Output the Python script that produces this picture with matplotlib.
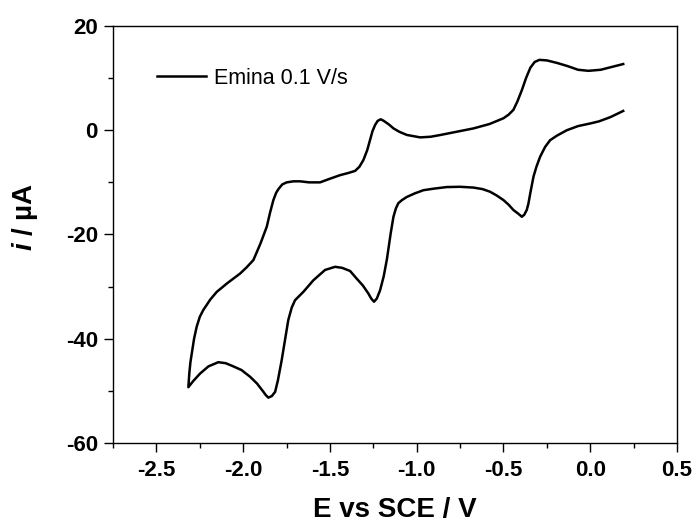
import matplotlib
matplotlib.use('Agg')
import matplotlib.pyplot as plt
from matplotlib.ticker import MultipleLocator

# cyclic voltammogram, cathodic sweep from +0.19 V to the vertex, then back
E_cathodic = [0.19, 0.115, 0.05, 0.0, -0.07, -0.135, -0.19, -0.231, -0.26, -0.289, -0.31, -0.327,
              -0.345, -0.357, -0.366, -0.38, -0.394, -0.415, -0.443, -0.47, -0.50, -0.54, -0.577,
              -0.62, -0.673, -0.75, -0.827, -0.90, -0.961, -1.01, -1.057, -1.085, -1.106, -1.12,
              -1.134, -1.15, -1.172, -1.19, -1.211, -1.23, -1.246, -1.262, -1.279, -1.31, -1.345,
              -1.384, -1.43, -1.47, -1.528, -1.596, -1.653, -1.701, -1.72, -1.74, -1.76, -1.778,
              -1.80, -1.816, -1.835, -1.855, -1.87, -1.883, -1.92, -1.96, -2.01, -2.057, -2.10,
              -2.143, -2.20, -2.249, -2.29, -2.316]
I_cathodic = [3.7, 2.5, 1.7, 1.3, 0.8, 0.0, -1.0, -1.9, -3.2, -5.1, -7.0, -8.9,
              -12.0, -14.2, -15.3, -16.2, -16.6, -16.0, -15.3, -14.3, -13.4, -12.5, -11.8,
              -11.3, -11.0, -10.85, -10.9, -11.2, -11.5, -12.1, -12.8, -13.4, -14.0, -15.0,
              -16.6, -19.8, -24.8, -28.0, -30.7, -32.3, -32.9, -32.3, -31.3, -29.8, -28.5,
              -27.0, -26.4, -26.2, -26.8, -28.8, -31.0, -32.6, -34.0, -36.4, -40.5, -44.1,
              -48.0, -50.2, -51.0, -51.3, -50.8, -50.2, -48.6, -47.3, -46.0, -45.3, -44.7,
              -44.5, -45.3, -46.7, -48.2, -49.3]

E_anodic = [-2.316, -2.31, -2.304, -2.296, -2.283, -2.268, -2.25, -2.23, -2.19, -2.152, -2.09,
            -2.018, -1.98, -1.941, -1.90, -1.864, -1.845, -1.826, -1.81, -1.797, -1.775, -1.749,
            -1.71, -1.672, -1.62, -1.557, -1.50, -1.44, -1.394, -1.355, -1.33, -1.307, -1.285,
            -1.269, -1.255, -1.24, -1.225, -1.207, -1.19, -1.16, -1.134, -1.10, -1.057, -0.98,
            -0.92, -0.865, -0.77, -0.673, -0.58, -0.50, -0.47, -0.443, -0.42, -0.394, -0.37,
            -0.345, -0.32, -0.293, -0.25, -0.19, -0.13, -0.07, -0.01, 0.06, 0.12, 0.19]
I_anodic = [-49.3, -46.5, -44.5, -42.8, -40.0, -37.7, -35.8, -34.5, -32.5, -31.0, -29.3,
            -27.5, -26.3, -24.9, -21.7, -18.5, -15.8, -13.4, -12.0, -11.3, -10.4, -10.0,
            -9.8, -9.8, -10.0, -10.0, -9.3, -8.6, -8.2, -7.8, -7.0, -5.7, -3.8,
            -1.9, -0.2, 1.0, 1.8, 2.1, 1.8, 1.1, 0.36, -0.3, -0.9, -1.37,
            -1.25, -0.92, -0.3, 0.35, 1.2, 2.3, 3.0, 3.9, 5.5, 7.7, 10.0,
            12.0, 13.1, 13.5, 13.4, 12.9, 12.3, 11.6, 11.4, 11.6, 12.1, 12.7]

plt.rcParams['font.family'] = ['Liberation Sans', 'DejaVu Sans']
plt.rcParams['axes.unicode_minus'] = False
plt.rcParams['mathtext.fontset'] = 'custom'
plt.rcParams['mathtext.it'] = 'Liberation Sans:italic:bold'

fig = plt.figure(figsize=(6.96, 5.23), dpi=100)
ax = fig.add_axes([0.1624, 0.153, 0.8103, 0.7973])

ax.plot(E_cathodic + E_anodic[1:], I_cathodic + I_anodic[1:], color='black', lw=1.8,
        label='Emina 0.1 V/s')

ax.set_xlim(-2.75, 0.5)
ax.set_ylim(-60, 20)
ax.xaxis.set_major_locator(MultipleLocator(0.5))
ax.xaxis.set_minor_locator(MultipleLocator(0.25))
ax.yaxis.set_major_locator(MultipleLocator(20))
ax.yaxis.set_minor_locator(MultipleLocator(10))
ax.tick_params(which='both', direction='out', top=False, right=False, width=1.0,
               labelsize=16)
ax.tick_params(which='major', length=6.5)
ax.tick_params(which='minor', length=3.6)
ax.tick_params(axis='x', which='major', pad=6)
ax.tick_params(axis='y', which='major', pad=4.5)
for lab in ax.get_xticklabels() + ax.get_yticklabels():
    lab.set_fontweight('bold')
for sp in ax.spines.values():
    sp.set_linewidth(1.0)

ax.set_xlabel('E vs SCE / V', fontsize=20, fontweight='bold', labelpad=11)
ax.set_ylabel(r'$i$ / µA', fontsize=20, fontweight='bold')
ax.yaxis.set_label_coords(-0.13, 0.543)

ax.legend(loc='upper left', frameon=False, fontsize=15.5, handlelength=2.3,
          handletextpad=0.35, bbox_to_anchor=(0.062, 0.92), borderaxespad=0)

fig.savefig('out.png', dpi=100)
